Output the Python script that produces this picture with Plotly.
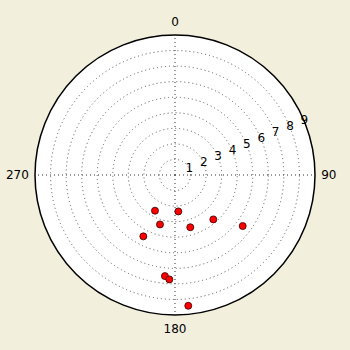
import plotly.graph_objects as go

theta_deg = [209.3, 174.8, 196.9, 163.7, 139.2, 127.0, 207.3, 185.7, 183.1, 174.2]
radius = [2.63, 2.35, 3.32, 3.50, 3.77, 5.45, 4.44, 6.53, 6.72, 8.45]
radial_ticks = [1, 2, 3, 4, 5, 6, 7, 8, 9]
radial_labels = [str(v) for v in radial_ticks]
radial_label_angle = 67.5
angular_ticks = [0, 90, 180, 270]
angular_labels = ["0", "90", "180", "270"]

fig = go.Figure()
fig.add_trace(go.Scatterpolar(
    r=radial_ticks, theta=[radial_label_angle] * len(radial_ticks),
    mode="text", text=radial_labels, textposition="middle center",
    textfont=dict(family="DejaVu Sans", size=12, color="black"),
    showlegend=False, hoverinfo="skip",
))
fig.add_trace(go.Scatterpolar(
    r=radius, theta=theta_deg, mode="markers",
    marker=dict(color="#ff0000", size=7, line=dict(color="#330000", width=0.8)),
    showlegend=False,
))

fig.update_layout(
    width=350, height=350,
    margin=dict(l=35, r=35, t=35, b=35),
    paper_bgcolor="#f2efdc",
    font=dict(family="DejaVu Sans", size=12, color="black"),
    polar=dict(
        bgcolor="white",
        domain=dict(x=[0, 1], y=[0, 1]),
        angularaxis=dict(
            rotation=90, direction="clockwise",
            tickmode="array", tickvals=angular_ticks, ticktext=angular_labels,
            showline=True, linecolor="black", linewidth=1.5,
            showgrid=True, gridcolor="#333", gridwidth=1, griddash="1px,3px",
            ticks="outside", ticklen=3, tickcolor="rgba(0,0,0,0)", tickfont=dict(size=12),
        ),
        radialaxis=dict(
            range=[0, 9], tickmode="array", tickvals=radial_ticks,
            angle=22.5, showticklabels=False,
            showline=False, ticks="",
            showgrid=True, gridcolor="#555", gridwidth=1, griddash="1px,3px",
        ),
    ),
)

fig.write_html("out.html")
